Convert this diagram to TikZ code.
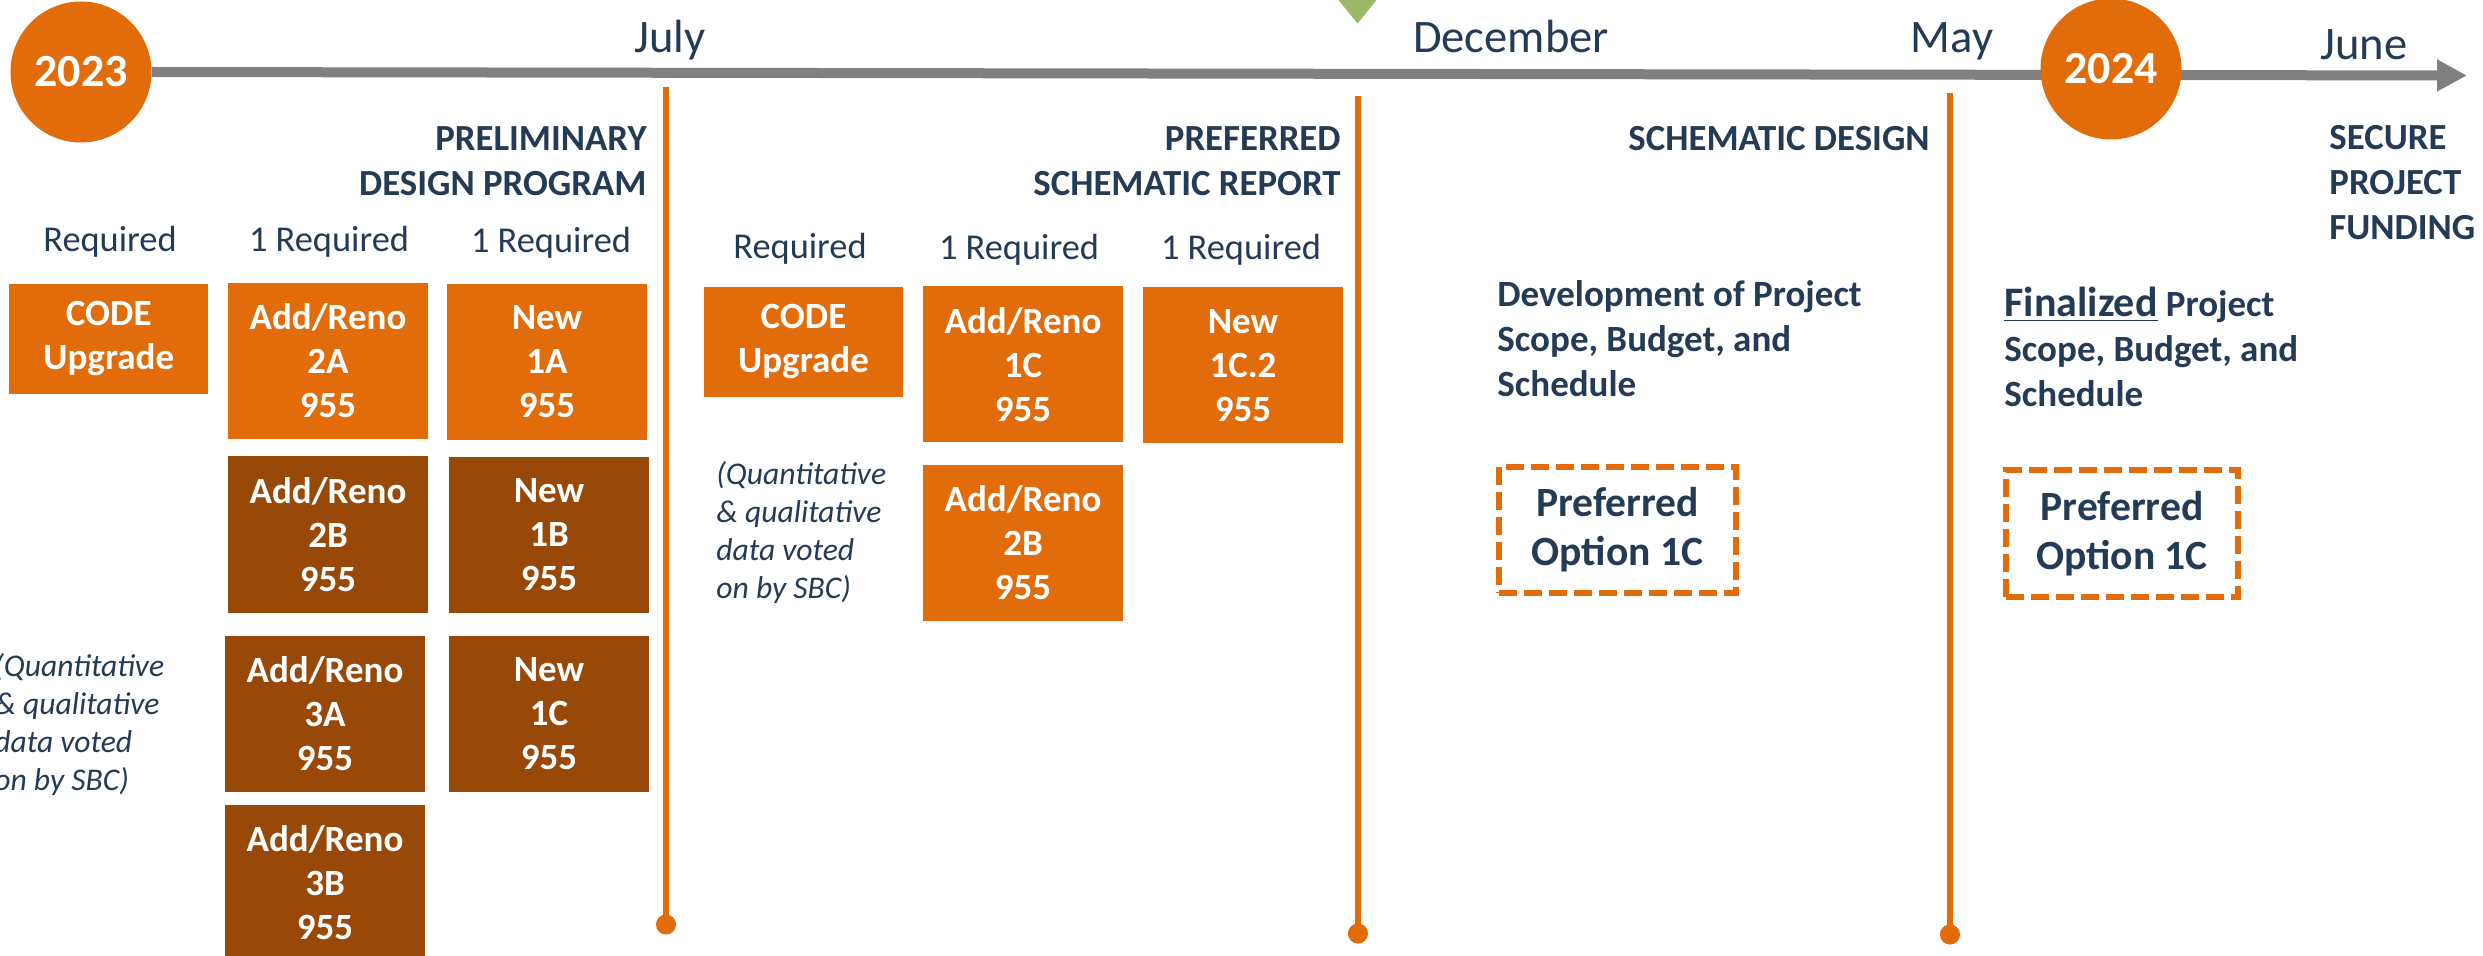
\documentclass[tikz,border=0pt]{standalone}
\usepackage{fontspec}
\setmainfont{Carlito}
\usetikzlibrary{arrows.meta}
\definecolor{orng}{HTML}{E36C0A}
\definecolor{brwn}{HTML}{984807}
\definecolor{navy}{HTML}{243B55}
\definecolor{gry}{HTML}{808080}
\definecolor{grn}{HTML}{9BB86A}
\newcommand\lblock[1]{\vtop{\halign{##\hfil\cr#1\crcr}}}
\newcommand\rblock[1]{\vtop{\halign{\hfil##\cr#1\crcr}}}
\tikzset{
  yearnode/.style={circle, fill=orng, text=white, inner sep=0pt, minimum size=70.5pt,
    font=\fontsize{23}{27}\selectfont\bfseries},
  month/.style={anchor=base, inner sep=0pt, text=navy, font=\fontsize{23.3}{28}\selectfont},
  heading/.style={inner sep=0pt, text=navy, font=\fontsize{18.4}{22.5}\selectfont\bfseries},
  reqlabel/.style={anchor=base, inner sep=0pt, text=navy, font=\fontsize{18.2}{22}\selectfont},
  note/.style={anchor=base west, inner sep=0pt, text=navy, font=\fontsize{15.8}{19}\selectfont\itshape},
  optbox/.style={rectangle, inner sep=0pt, text=white, align=center,
    font=\fontsize{18.5}{22}\selectfont\bfseries, minimum width=100pt, minimum height=78pt},
  lightbox/.style={optbox, fill=orng},
  darkbox/.style={optbox, fill=brwn},
  codebox/.style={lightbox, minimum width=99.5pt, minimum height=55pt},
  vline/.style={orng, line width=3pt, -{Circle[length=10pt]}},
  timeline/.style={gry, line width=5pt, -{Triangle[length=15pt,width=15pt]}},
  prefbox/.style={draw=orng, line width=2.75pt, dash pattern=on 9pt off 3.5pt, text=navy,
    align=center, inner sep=0pt, font=\fontsize{20.8}{24.5}\selectfont\bfseries},
  desc/.style={anchor=base west, inner sep=0pt, text=navy, font=\fontsize{18.5}{22.5}\selectfont\bfseries},
}
\begin{document}
\begin{tikzpicture}[x=0.5pt,y=-0.5pt]
\useasboundingbox (0,0) rectangle (2483,956);
% timeline
\node[yearnode] (y2023) at (81,72) {2023};
\coordinate (tlend) at (2467,75.5);
\draw[timeline] (y2023.east) -- (tlend);
\node[yearnode] (y2024) at (2111,69) {2024};
\fill[grn] (1336,-3) -- (1379,-3) -- (1357.5,23.5) -- cycle;
% months
\node[month] (mjul) at (670,53) {July};
\node[month] (mdec) at (1511,53) {December};
\node[month] (mmay) at (1952,53) {May};
\node[month] (mjun) at (2364,60) {June};
% vertical markers
\coordinate (v1t) at (666,87);  \coordinate (v1b) at (666,934.5);
\coordinate (v2t) at (1358,96); \coordinate (v2b) at (1358,943.5);
\coordinate (v3t) at (1950,93); \coordinate (v3b) at (1950,944.5);
\draw[vline] (v1t) -- (v1b);
\draw[vline] (v2t) -- (v2b);
\draw[vline] (v3t) -- (v3b);
% headings
\node[heading, anchor=base east] (hpre) at (647,151) {\rblock{PRELIMINARY\cr DESIGN PROGRAM}};
\node[heading, anchor=base east] (hsch) at (1341,151) {\rblock{PREFERRED\cr SCHEMATIC REPORT}};
\node[heading, anchor=base east] (hdes) at (1930,151) {SCHEMATIC DESIGN};
\node[heading, anchor=base west] (hfun) at (2329,150) {\lblock{SECURE\cr PROJECT\cr FUNDING}};
% required labels
\node[reqlabel] (r1) at (110,252) {Required};
\node[reqlabel] (r2) at (329,252) {1 Required};
\node[reqlabel] (r3) at (551,253) {1 Required};
\node[reqlabel] (r4) at (800,259) {Required};
\node[reqlabel] (r5) at (1019,260) {1 Required};
\node[reqlabel] (r6) at (1241,260) {1 Required};
% section 1 boxes
\node[codebox] (code1) at (108.75,339) {CODE\\Upgrade};
\node[lightbox] (ar2a) at (328,361) {Add/Reno\\2A\\955};
\node[lightbox] (n1a) at (547,362) {New\\1A\\955};
\node[darkbox] (ar2b) at (328,534.5) {Add/Reno\\2B\\955};
\node[darkbox] (n1b) at (549,535) {New\\1B\\955};
\node[darkbox] (ar3a) at (325,714) {Add/Reno\\3A\\955};
\node[darkbox] (n1c) at (549,714) {New\\1C\\955};
\node[darkbox] (ar3b) at (325,883) {Add/Reno\\3B\\955};
\node[note] (q1) at (-6,676.6) {\lblock{(Quantitative\cr \& qualitative\cr data voted\cr on by SBC)}};
% section 2 boxes
\node[codebox] (code2) at (803.5,342) {CODE\\Upgrade};
\node[lightbox] (ar1c) at (1023,364.5) {Add/Reno\\1C\\955};
\node[lightbox] (n1c2) at (1243,365.5) {New\\1C.2\\955};
\node[lightbox] (ar2bb) at (1023,543) {Add/Reno\\2B\\955};
\node[note] (q2) at (716,485) {\lblock{(Quantitative\cr \& qualitative\cr data voted\cr on by SBC)}};
% section 3
\node[desc] (dev) at (1497,307) {\lblock{Development of Project\cr Scope, Budget, and\cr Schedule}};
\node[prefbox, minimum width=118.5pt, minimum height=63pt] (pref1) at (1617.5,530) {Preferred\\Option 1C};
% section 4
\node[desc] (fin) at (2004,317) {\lblock{{\fontsize{21}{25}\selectfont\underline{Finalized}} Project\cr Scope, Budget, and\cr Schedule}};
\node[prefbox, minimum width=116pt, minimum height=63.5pt] (pref2) at (2122,533.5) {Preferred\\Option 1C};
\end{tikzpicture}
\end{document}
